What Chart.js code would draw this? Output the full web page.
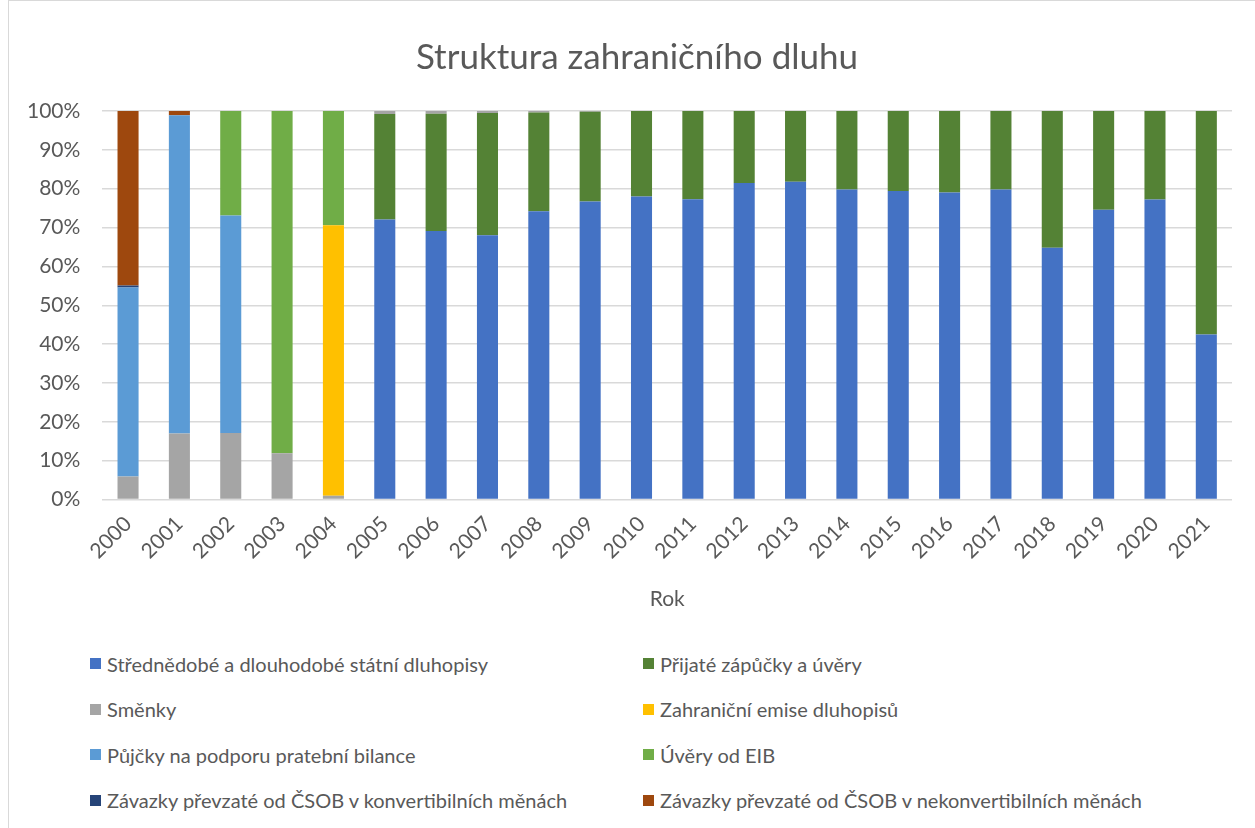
<!DOCTYPE html>
<html>
<head>
<meta charset="utf-8">
<script src="https://cdn.jsdelivr.net/npm/chart.js@4"></script>
<style>
  html, body { margin: 0; padding: 0; background: #fff; }
  #wrap { position: relative; width: 1255px; height: 828px; font-family: Lato, sans-serif; }
  #frame { position: absolute; left: 8px; top: 0; width: 1250px; height: 830px; border: 1px solid #d9d9d9; box-sizing: border-box; }
  #title { position: absolute; left: 337px; width: 600px; top: 34px; text-align: center; color: #595959; font-size: 35px; line-height: 42px; }
  #box { position: absolute; left: 0; top: 0; width: 1255px; height: 612px; }
  #legend { position: absolute; left: 90px; top: 641px; display: grid; grid-template-columns: 553px 560px; row-gap: 0; }
  .item { height: 45.5px; display: flex; align-items: center; color: #595959; font-size: 20px; white-space: nowrap; }
  .sw { width: 11px; height: 11px; margin-right: 6px; flex: none; }
</style>
</head>
<body>
<div id="wrap">
  <div id="frame"></div>
  <div id="box"><canvas id="myChart"></canvas></div>
  <div id="title">Struktura zahraničního dluhu</div>
  <div id="legend"></div>
</div>
<script>
const years = ['2000','2001','2002','2003','2004','2005','2006','2007','2008','2009','2010',
  '2011','2012','2013','2014','2015','2016','2017','2018','2019','2020','2021'];

const stredneDobe = [0, 0, 0, 0, 0, 72.1, 69.1, 68.0, 74.2, 76.7, 78.0, 77.3, 81.5, 81.8, 79.8, 79.4, 79.0, 79.8, 64.8, 74.6, 77.2, 42.5];
const prijate     = [0, 0, 0, 0, 0, 27.1, 30.2, 31.5, 25.4, 23.1, 22.0, 22.7, 18.5, 18.2, 20.2, 20.6, 21.0, 20.2, 35.2, 25.4, 22.8, 57.5];
const smenky      = [5.9, 17.0, 17.1, 11.9, 1.0, 0.8, 0.7, 0.5, 0.4, 0.2, 0, 0, 0, 0, 0, 0, 0, 0, 0, 0, 0, 0];
const emise       = [0, 0, 0, 0, 69.6, 0, 0, 0, 0, 0, 0, 0, 0, 0, 0, 0, 0, 0, 0, 0, 0, 0];
const pujcky      = [48.7, 81.9, 56.0, 0, 0, 0, 0, 0, 0, 0, 0, 0, 0, 0, 0, 0, 0, 0, 0, 0, 0, 0];
const eib         = [0, 0, 26.9, 88.1, 29.4, 0, 0, 0, 0, 0, 0, 0, 0, 0, 0, 0, 0, 0, 0, 0, 0, 0];
const csobKonv    = [0.5, 0, 0, 0, 0, 0, 0, 0, 0, 0, 0, 0, 0, 0, 0, 0, 0, 0, 0, 0, 0, 0];
const csobNekonv  = [44.9, 1.1, 0, 0, 0, 0, 0, 0, 0, 0, 0, 0, 0, 0, 0, 0, 0, 0, 0, 0, 0, 0];

const yTicks = [0, 10, 20, 30, 40, 50, 60, 70, 80, 90, 100];

const series = [
  ['Střednědobé a dlouhodobé státní dluhopisy', stredneDobe, '#4472C4'],
  ['Přijaté zápůčky a úvěry', prijate, '#548235'],
  ['Směnky', smenky, '#A5A5A5'],
  ['Zahraniční emise dluhopisů', emise, '#FFC000'],
  ['Půjčky na podporu pratební bilance', pujcky, '#5B9BD5'],
  ['Úvěry od EIB', eib, '#70AD47'],
  ['Závazky převzaté od ČSOB v konvertibilních měnách', csobKonv, '#264478'],
  ['Závazky převzaté od ČSOB v nekonvertibilních měnách', csobNekonv, '#9E480E']
];

const ctx = document.getElementById('myChart');

let chart = new Chart(ctx, {
  type: 'bar',
  data: {
    labels: years,
    datasets: series.map(s => ({
      label: s[0],
      data: s[1],
      backgroundColor: s[2],
      barPercentage: 0.82,
      categoryPercentage: 0.5
    }))
  },
  options: {
    responsive: true,
    maintainAspectRatio: false,
    animation: false,
    layout: { padding: { left: 5, right: 23, top: 111, bottom: 0 } },
    plugins: {
      legend: { display: false },
      tooltip: { enabled: false },
      title: { display: false }
    },
    scales: {
      x: {
        stacked: true,
        grid: { display: false },
        border: { display: false },
        ticks: {
          color: '#595959',
          font: { family: 'Lato', size: 21 },
          minRotation: 45,
          maxRotation: 45,
          padding: 4
        },
        title: {
          display: true,
          text: 'Rok',
          color: '#595959',
          font: { family: 'Lato', size: 21 },
          padding: { top: 19, bottom: 0 }
        }
      },
      y: {
        stacked: true,
        min: 0,
        max: 100,
        afterBuildTicks: axis => { axis.ticks = yTicks.map(v => ({ value: v })); },
        grid: { color: '#d9d9d9', lineWidth: 1.5, drawTicks: false },
        border: { display: false },
        ticks: {
          color: '#595959',
          font: { family: 'Lato', size: 21 },
          padding: 22,
          callback: v => v + '%'
        }
      }
    }
  }
});

// legend in two columns, row by row like the original
const legend = document.getElementById('legend');
chart.data.datasets.forEach(ds => {
  const item = document.createElement('div');
  item.className = 'item';
  const sw = document.createElement('span');
  sw.className = 'sw';
  sw.style.background = ds.backgroundColor;
  item.appendChild(sw);
  item.appendChild(document.createTextNode(ds.label));
  legend.appendChild(item);
});
</script>
</body>
</html>
